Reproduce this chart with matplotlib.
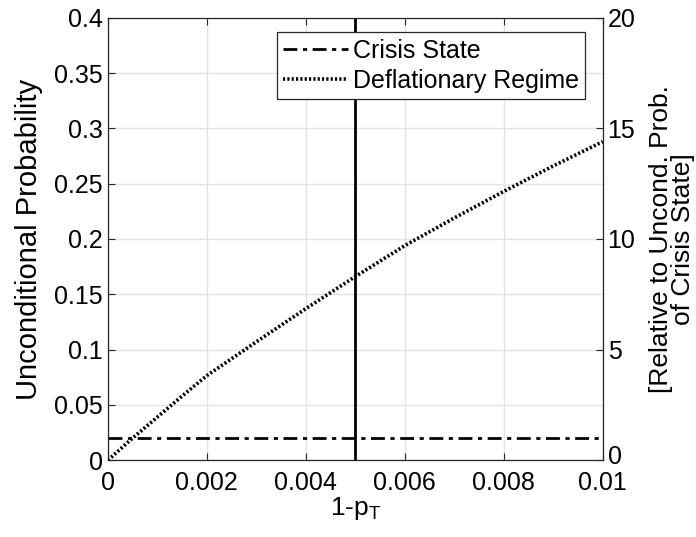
import numpy as np
import matplotlib
matplotlib.use('Agg')
import matplotlib.pyplot as plt
import matplotlib.transforms as mtransforms

plt.rcParams['font.family'] = ['Liberation Sans', 'DejaVu Sans']
plt.rcParams['mathtext.fontset'] = 'custom'
plt.rcParams['mathtext.rm'] = 'Liberation Sans'
plt.rcParams['mathtext.it'] = 'Liberation Sans:italic'

# values
one_minus_pT = [0, 0.0005, 0.001, 0.0015, 0.002, 0.003, 0.004, 0.005,
                0.006, 0.007, 0.008, 0.009, 0.01]
deflationary = [0, 0.020, 0.039, 0.058, 0.0765, 0.107, 0.137, 0.166,
                0.194, 0.219, 0.243, 0.266, 0.288]
crisis_prob = 0.02
pT_marker = 0.005

x_ticks = [0, 0.002, 0.004, 0.006, 0.008, 0.01]
x_ticklabels = ['0', '0.002', '0.004', '0.006', '0.008', '0.01']
y_ticks = [0, 0.05, 0.1, 0.15, 0.2, 0.25, 0.3, 0.35, 0.4]
y_ticklabels = ['0', '0.05', '0.1', '0.15', '0.2', '0.25', '0.3', '0.35', '0.4']
y2_ticks = [0, 5, 10, 15, 20]

fs = 18

fig = plt.figure(figsize=(6.96, 5.37), dpi=100)
ax = fig.add_axes([0.155, 0.143, 0.711, 0.824])

ax.plot([0, 0.01], [crisis_prob, crisis_prob], color='black', lw=2,
        dashes=(5, 2, 1.5, 2), label='Crisis State')
ax.plot(one_minus_pT, deflationary, color='black', lw=2.6,
        linestyle=(0, (0.6, 0.6)), label='Deflationary Regime')
ax.axvline(pT_marker, color='black', lw=2)

ax.set_xlim(0, 0.01)
ax.set_ylim(0, 0.4)
ax.set_xticks(x_ticks)
ax.set_xticklabels(x_ticklabels)
ax.set_yticks(y_ticks)
ax.set_yticklabels(y_ticklabels)
ax.grid(True, color='#e3e3e3', lw=1)
ax.set_axisbelow(True)
ax.tick_params(direction='in', labelsize=fs, length=5, top=True, color='#262626')
ax.tick_params(axis='x', pad=8)
for s in ax.spines.values():
    s.set_color('#262626')
    s.set_linewidth(0.9)

ax.set_xlabel(r'1-p$_{\mathrm{T}}$', fontsize=19, labelpad=0)
ax.set_ylabel('Unconditional Probability', fontsize=21, labelpad=8)

ax2 = ax.twinx()
ax2.set_ylim(0, 20)
ax2.set_yticks(y2_ticks)
ax2.tick_params(direction='in', labelsize=fs, length=5, color='#262626')
ax2.set_ylabel('[Relative to Uncond. Prob.\nof Crisis State]', fontsize=19,
               linespacing=0.9, labelpad=10)
for s in ax2.spines.values():
    s.set_visible(False)

# right-hand "0" sits a little above its tick, as in the original
lift = mtransforms.ScaledTranslation(0, 4 / 72, fig.dpi_scale_trans)
lbl0 = ax2.get_yticklabels()[0]
lbl0.set_transform(lbl0.get_transform() + lift)

leg = ax.legend(loc='upper right', bbox_to_anchor=(0.965, 0.967), fontsize=fs,
                handlelength=2.6, handletextpad=0.2, borderpad=0.25,
                labelspacing=0.25, borderaxespad=0.0, fancybox=False,
                framealpha=1, edgecolor='#262626')
leg.get_frame().set_linewidth(0.9)

fig.savefig('out.png', dpi=100)
